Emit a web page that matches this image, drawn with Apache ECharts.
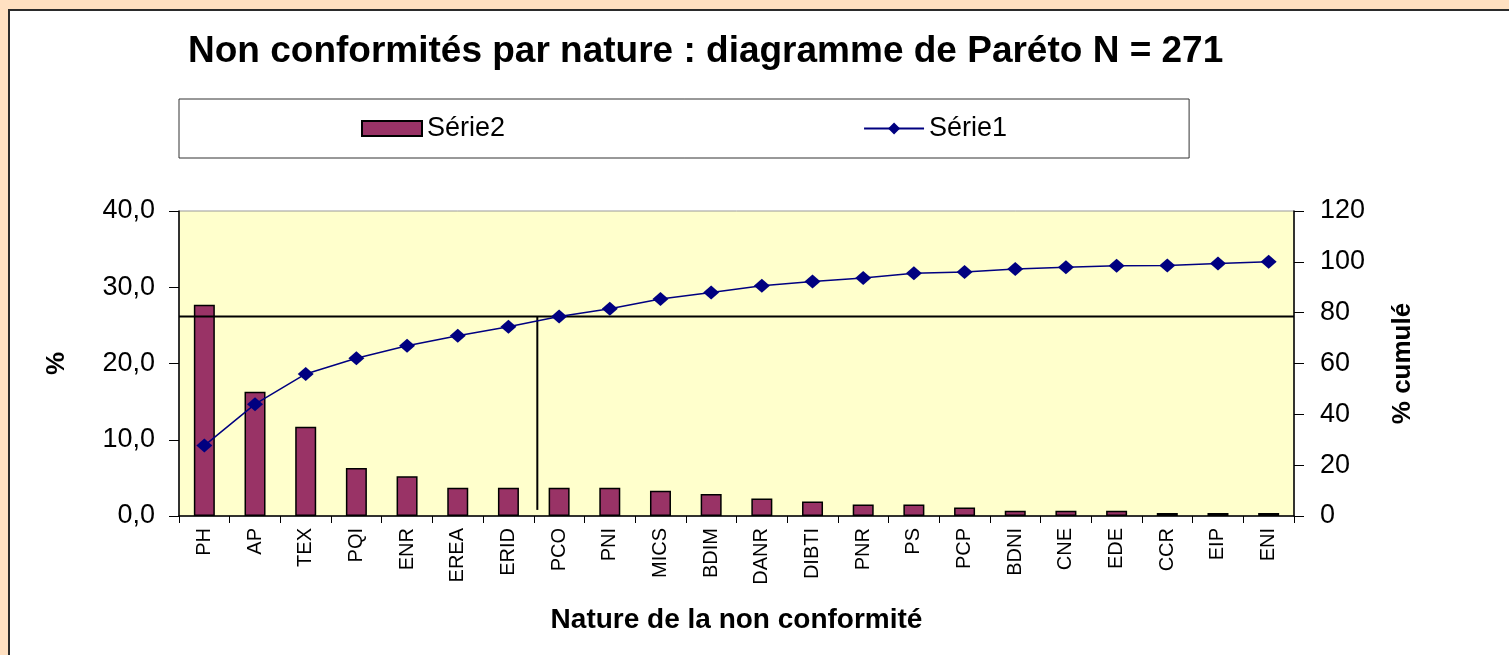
<!DOCTYPE html>
<html>
<head>
<meta charset="utf-8">
<script src="https://cdn.jsdelivr.net/npm/echarts@6/dist/echarts.min.js"></script>
<style>
    html, body { margin: 0; padding: 0; background: #FFE0C1; overflow: hidden; }
    #cadre { position: absolute; left: 8px; top: 9px; width: 1520px; height: 660px; background: #fff; border: 2px solid #2b2b2b; }
    #chart { position: absolute; left: 0; top: 0; width: 1509px; height: 655px; }
</style>
</head>
<body>
<div id="cadre"></div>
<div id="chart"></div>
<script>
// Pareto des non conformites (N = 271)
var categories = ['PH', 'AP', 'TEX', 'PQI', 'ENR', 'EREA', 'ERID', 'PCO', 'PNI', 'MICS', 'BDIM',
    'DANR', 'DIBTI', 'PNR', 'PS', 'PCP', 'BDNI', 'CNE', 'EDE', 'CCR', 'EIP', 'ENI'];

// Serie2 : % par nature
var pourcentages = [27.7, 16.3, 11.7, 6.3, 5.2, 3.7, 3.7, 3.7, 3.7, 3.3, 2.9,
    2.3, 1.9, 1.5, 1.5, 1.1, 0.7, 0.7, 0.7, 0.4, 0.4, 0.4];

// Serie1 : % cumule
var cumules = [27.7, 44.0, 55.9, 62.1, 67.0, 70.9, 74.5, 78.5, 81.5, 85.4, 87.9,
    90.6, 92.3, 93.6, 95.5, 96.0, 97.2, 97.9, 98.5, 98.6, 99.3, 100];

var seuil = [78.5];
var coupure = [7.07];
var pied = [2.4];

var leftTicks = [0, 40, 10];
var rightTicks = [0, 120, 20];

var police = 'Liberation Sans, Arial, sans-serif';

var chart = echarts.init(document.getElementById('chart'));

var options = {
    backgroundColor: 'transparent',
    animation: false,
    textStyle: { fontFamily: police, color: '#000' },
    title: {
        text: 'Non conformités par nature : diagramme de Paréto N = 271',
        left: 188,
        top: 33,
        padding: 0,
        textStyle: { fontFamily: police, fontSize: 37, fontWeight: 'bold', color: '#000' }
    },
    legend: {
        data: [{ name: 'Série2', icon: 'rect' }, { name: 'Série1' }],
        left: 179,
        top: 99,
        padding: [16, 182, 16, 182],
        itemGap: 358,
        itemWidth: 60,
        itemHeight: 15,
        borderColor: '#333',
        borderWidth: 1,
        backgroundColor: '#fff',
        textStyle: { fontFamily: police, fontSize: 27, color: '#000' }
    },
    grid: {
        left: 179,
        right: 215,
        top: 211,
        bottom: 139,
        show: true,
        backgroundColor: '#FFFFCC',
        borderColor: '#9a9a9a',
        borderWidth: 1
    },
    xAxis: [
        {
            type: 'category',
            data: categories,
            boundaryGap: true,
            axisLine: { lineStyle: { color: '#000', width: 1.5 } },
            axisTick: { show: true, length: 7, lineStyle: { color: '#000' } },
            axisLabel: { rotate: 90, fontSize: 20, margin: 12, color: '#000', fontFamily: police },
            name: 'Nature de la non conformité',
            nameLocation: 'middle',
            nameGap: 90,
            nameTextStyle: { fontFamily: police, fontSize: 28, fontWeight: 'bold', color: '#000' }
        },
        {
            type: 'value',
            min: 0,
            max: categories.length,
            show: false
        }
    ],
    yAxis: [
        {
            type: 'value',
            position: 'left',
            min: leftTicks[0],
            max: leftTicks[1],
            interval: leftTicks[2],
            axisLine: { show: true, lineStyle: { color: '#000', width: 1.5 } },
            axisTick: { show: true, length: 10, lineStyle: { color: '#000' } },
            splitLine: { show: false },
            axisLabel: {
                fontSize: 27, margin: 24, color: '#000', fontFamily: police,
                formatter: function (v) { return v.toFixed(1).replace('.', ','); }
            },
            name: '%',
            nameLocation: 'middle',
            nameRotate: 90,
            nameGap: 109,
            nameTextStyle: { fontFamily: police, fontSize: 26, fontWeight: 'bold', color: '#000' }
        },
        {
            type: 'value',
            position: 'right',
            min: rightTicks[0],
            max: rightTicks[1],
            interval: rightTicks[2],
            axisLine: { show: true, lineStyle: { color: '#000', width: 1.5 } },
            axisTick: { show: true, length: 10, lineStyle: { color: '#000' } },
            splitLine: { show: false },
            axisLabel: { fontSize: 27, margin: 26, color: '#000', fontFamily: police },
            name: '% cumulé',
            nameLocation: 'middle',
            nameRotate: 90,
            nameGap: 96,
            nameTextStyle: { fontFamily: police, fontSize: 26, fontWeight: 'bold', color: '#000' }
        }
    ],
    series: [
        {
            name: 'Série2',
            type: 'bar',
            data: pourcentages,
            barWidth: 21,
            itemStyle: { color: '#993366', borderColor: '#000', borderWidth: 1.5 },
            z: 2
        },
        {
            name: 'Série1',
            type: 'line',
            yAxisIndex: 1,
            data: cumules,
            symbol: 'diamond',
            symbolSize: [16, 14],
            itemStyle: { color: '#000080' },
            lineStyle: { color: '#000080', width: 1.5 },
            z: 4
        },
        {
            name: 'seuil',
            type: 'line',
            xAxisIndex: 1,
            yAxisIndex: 1,
            data: [[0, seuil[0]], [categories.length, seuil[0]]],
            symbol: 'none',
            silent: true,
            lineStyle: { color: '#000', width: 2 },
            z: 3
        },
        {
            name: 'coupure',
            type: 'line',
            xAxisIndex: 1,
            yAxisIndex: 1,
            data: [[coupure[0], seuil[0]], [coupure[0], pied[0]]],
            symbol: 'none',
            silent: true,
            lineStyle: { color: '#000', width: 2 },
            z: 3
        }
    ]
};

chart.setOption(options);

window.addEventListener('resize', function () {
    chart.resize();
});
</script>
</body>
</html>
